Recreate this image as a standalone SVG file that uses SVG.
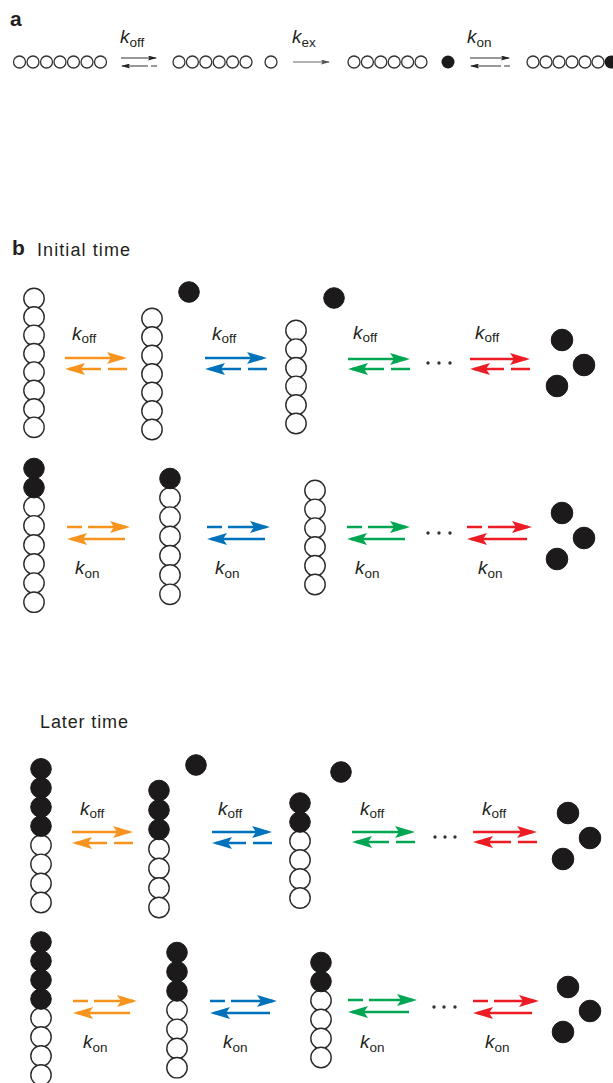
<svg xmlns="http://www.w3.org/2000/svg" width="613" height="1083" viewBox="0 0 613 1083">
<style>
text{font-family:"Liberation Sans",Arial,sans-serif;fill:#231f20}
.panel{font-weight:bold;font-size:21px}
.title{font-size:18px}
.k{font-style:italic;font-size:19px}
.sub{font-style:normal;font-size:13.5px}
.w{fill:#fff;stroke:#2a2a2a;stroke-width:1.4}
.b{fill:#1c1a1b;stroke:#1c1a1b;stroke-width:1}
.aw{fill:#fff;stroke:#333;stroke-width:1.3}
.ab{fill:#1c1a1b}
.thin{stroke:#333;stroke-width:1.1;fill:none}
.thin-d{stroke:#333;stroke-width:1.1;fill:none;stroke-dasharray:6 3 40}
.ex{stroke:#666;stroke-width:1;fill:none}
.o{stroke:#F7941E}.bl{stroke:#0072BC}.g{stroke:#00A651}.r{stroke:#ED1C24}
.s{stroke-width:2.6;fill:none}
.dl{stroke-dasharray:19 7 60}
.dr{stroke-dasharray:15 6 60}
.dot{fill:#333}
</style>
<defs>
<marker id="hO" viewBox="0 0 20 12" refX="16" refY="6" markerWidth="20" markerHeight="12" markerUnits="userSpaceOnUse" orient="auto"><path d="M0,0 L20,6 L0,12 L4,6 Z" fill="#F7941E"/></marker>
<marker id="hB" viewBox="0 0 20 12" refX="16" refY="6" markerWidth="20" markerHeight="12" markerUnits="userSpaceOnUse" orient="auto"><path d="M0,0 L20,6 L0,12 L4,6 Z" fill="#0072BC"/></marker>
<marker id="hG" viewBox="0 0 20 12" refX="16" refY="6" markerWidth="20" markerHeight="12" markerUnits="userSpaceOnUse" orient="auto"><path d="M0,0 L20,6 L0,12 L4,6 Z" fill="#00A651"/></marker>
<marker id="hR" viewBox="0 0 20 12" refX="16" refY="6" markerWidth="20" markerHeight="12" markerUnits="userSpaceOnUse" orient="auto"><path d="M0,0 L20,6 L0,12 L4,6 Z" fill="#ED1C24"/></marker>
<marker id="hK" viewBox="0 0 9 5" refX="8" refY="2.5" markerWidth="9" markerHeight="5" markerUnits="userSpaceOnUse" orient="auto"><path d="M0,0 L9,2.5 L0,5 L1.5,2.5 Z" fill="#222"/></marker>
<marker id="hX" viewBox="0 0 9 5" refX="8" refY="2.5" markerWidth="9" markerHeight="5" markerUnits="userSpaceOnUse" orient="auto"><path d="M0,0 L9,2.5 L0,5 L1.5,2.5 Z" fill="#555"/></marker>
</defs>

<!-- Panel a -->
<g id="label-a"><text class="panel" x="10" y="26">a</text></g>
<g id="a-chain1">
<circle class="aw" cx="19.5" cy="62" r="6"/><circle class="aw" cx="33" cy="62" r="6"/><circle class="aw" cx="46.5" cy="62" r="6"/><circle class="aw" cx="60" cy="62" r="6"/><circle class="aw" cx="73.5" cy="62" r="6"/><circle class="aw" cx="87" cy="62" r="6"/><circle class="aw" cx="100.5" cy="62" r="6"/>
</g>
<g id="a-chain2">
<circle class="aw" cx="179" cy="62" r="6"/><circle class="aw" cx="192.4" cy="62" r="6"/><circle class="aw" cx="205.8" cy="62" r="6"/><circle class="aw" cx="219.2" cy="62" r="6"/><circle class="aw" cx="232.6" cy="62" r="6"/><circle class="aw" cx="246" cy="62" r="6"/>
</g>
<g id="a-free-white"><circle class="aw" cx="271" cy="62" r="6"/></g>
<g id="a-chain3">
<circle class="aw" cx="354" cy="62" r="6"/><circle class="aw" cx="367.4" cy="62" r="6"/><circle class="aw" cx="380.8" cy="62" r="6"/><circle class="aw" cx="394.2" cy="62" r="6"/><circle class="aw" cx="407.6" cy="62" r="6"/><circle class="aw" cx="421" cy="62" r="6"/>
</g>
<g id="a-free-black"><circle class="ab" cx="448" cy="62" r="6.5"/></g>
<g id="a-chain4">
<circle class="aw" cx="533" cy="62" r="6"/><circle class="aw" cx="546" cy="62" r="6"/><circle class="aw" cx="559" cy="62" r="6"/><circle class="aw" cx="572" cy="62" r="6"/><circle class="aw" cx="585" cy="62" r="6"/><circle class="aw" cx="598" cy="62" r="6"/><circle class="ab" cx="611" cy="62" r="6.5"/>
</g>
<g id="a-labels">
<text x="120" y="43"><tspan class="k">k</tspan><tspan class="sub" dy="4">off</tspan></text>
<text x="292" y="43"><tspan class="k">k</tspan><tspan class="sub" dy="4">ex</tspan></text>
<text x="467" y="43"><tspan class="k">k</tspan><tspan class="sub" dy="4">on</tspan></text>
</g>

<!-- Panel b headings -->
<g id="label-b"><text class="panel" x="12" y="255">b</text></g>
<g id="title-initial"><text class="title" x="37" y="256" textLength="93">Initial time</text></g>
<g id="title-later"><text class="title" x="40" y="728" textLength="88">Later time</text></g>

<!-- Row 1: initial, koff -->
<g id="chainA">
<circle class="w" cx="34" cy="298.5" r="10.2"/><circle class="w" cx="34" cy="316.9" r="10.2"/><circle class="w" cx="34" cy="335.3" r="10.2"/><circle class="w" cx="34" cy="353.7" r="10.2"/><circle class="w" cx="34" cy="372.1" r="10.2"/><circle class="w" cx="34" cy="390.5" r="10.2"/><circle class="w" cx="34" cy="408.9" r="10.2"/><circle class="w" cx="34" cy="427.3" r="10.2"/>
</g>
<g id="chainB">
<circle class="w" cx="152" cy="318.5" r="10.2"/><circle class="w" cx="152" cy="337" r="10.2"/><circle class="w" cx="152" cy="355.5" r="10.2"/><circle class="w" cx="152" cy="374" r="10.2"/><circle class="w" cx="152" cy="392.5" r="10.2"/><circle class="w" cx="152" cy="411" r="10.2"/><circle class="w" cx="152" cy="429.5" r="10.2"/>
</g>
<g id="freeB"><circle class="b" cx="189" cy="292" r="10.3"/></g>
<g id="chainC">
<circle class="w" cx="296" cy="330.5" r="10.2"/><circle class="w" cx="296" cy="349.1" r="10.2"/><circle class="w" cx="296" cy="367.7" r="10.2"/><circle class="w" cx="296" cy="386.3" r="10.2"/><circle class="w" cx="296" cy="404.9" r="10.2"/><circle class="w" cx="296" cy="423.5" r="10.2"/>
</g>
<g id="freeC"><circle class="b" cx="334" cy="298" r="10.3"/></g>
<g id="free3-row1"><circle class="b" cx="562" cy="340" r="10.8"/><circle class="b" cx="584" cy="365" r="10.8"/><circle class="b" cx="557" cy="386" r="10.8"/></g>
<g id="dots-row1"><circle class="dot" cx="428" cy="363" r="1.7"/><circle class="dot" cx="439" cy="363" r="1.7"/><circle class="dot" cx="450" cy="363" r="1.7"/></g>

<!-- Row 2: initial, kon -->
<g id="chainD">
<circle class="w" cx="34" cy="506.7" r="10.2"/><circle class="w" cx="34" cy="525.8" r="10.2"/><circle class="w" cx="34" cy="544.9" r="10.2"/><circle class="w" cx="34" cy="564" r="10.2"/><circle class="w" cx="34" cy="583.1" r="10.2"/><circle class="w" cx="34" cy="602.2" r="10.2"/>
<circle class="b" cx="34" cy="487.6" r="10.3"/><circle class="b" cx="34" cy="468.5" r="10.3"/>
</g>
<g id="chainE">
<circle class="w" cx="170" cy="497.8" r="10.2"/><circle class="w" cx="170" cy="517.1" r="10.2"/><circle class="w" cx="170" cy="536.4" r="10.2"/><circle class="w" cx="170" cy="555.7" r="10.2"/><circle class="w" cx="170" cy="575" r="10.2"/><circle class="w" cx="170" cy="594.3" r="10.2"/>
<circle class="b" cx="170" cy="478.5" r="10.3"/>
</g>
<g id="chainF">
<circle class="w" cx="315" cy="490.5" r="10.2"/><circle class="w" cx="315" cy="509.3" r="10.2"/><circle class="w" cx="315" cy="528.1" r="10.2"/><circle class="w" cx="315" cy="546.9" r="10.2"/><circle class="w" cx="315" cy="565.7" r="10.2"/><circle class="w" cx="315" cy="584.5" r="10.2"/>
</g>
<g id="free3-row2"><circle class="b" cx="562" cy="513" r="10.8"/><circle class="b" cx="584" cy="538" r="10.8"/><circle class="b" cx="557" cy="559" r="10.8"/></g>
<g id="dots-row2"><circle class="dot" cx="428" cy="533" r="1.7"/><circle class="dot" cx="439" cy="533" r="1.7"/><circle class="dot" cx="450" cy="533" r="1.7"/></g>

<!-- Row 3: later, koff -->
<g id="chainG">
<circle class="w" cx="41" cy="845.2" r="10.2"/><circle class="w" cx="41" cy="864.3" r="10.2"/><circle class="w" cx="41" cy="883.4" r="10.2"/><circle class="w" cx="41" cy="902.5" r="10.2"/>
<circle class="b" cx="41" cy="826.1" r="10.3"/><circle class="b" cx="41" cy="807" r="10.3"/><circle class="b" cx="41" cy="787.9" r="10.3"/><circle class="b" cx="41" cy="768.8" r="10.3"/>
</g>
<g id="chainH">
<circle class="w" cx="159" cy="849" r="10.2"/><circle class="w" cx="159" cy="868.5" r="10.2"/><circle class="w" cx="159" cy="888" r="10.2"/><circle class="w" cx="159" cy="907.5" r="10.2"/>
<circle class="b" cx="159" cy="829.5" r="10.3"/><circle class="b" cx="159" cy="810" r="10.3"/><circle class="b" cx="159" cy="790.5" r="10.3"/>
</g>
<g id="freeH"><circle class="b" cx="196" cy="765" r="10.3"/></g>
<g id="chainI">
<circle class="w" cx="300" cy="841" r="10.2"/><circle class="w" cx="300" cy="860" r="10.2"/><circle class="w" cx="300" cy="879" r="10.2"/><circle class="w" cx="300" cy="898" r="10.2"/>
<circle class="b" cx="300" cy="822" r="10.3"/><circle class="b" cx="300" cy="803" r="10.3"/>
</g>
<g id="freeI"><circle class="b" cx="341" cy="772" r="10.3"/></g>
<g id="free3-row3"><circle class="b" cx="568" cy="813" r="10.8"/><circle class="b" cx="590" cy="838" r="10.8"/><circle class="b" cx="563" cy="859" r="10.8"/></g>
<g id="dots-row3"><circle class="dot" cx="435" cy="837" r="1.7"/><circle class="dot" cx="445" cy="837" r="1.7"/><circle class="dot" cx="455" cy="837" r="1.7"/></g>

<!-- Row 4: later, kon -->
<g id="chainJ">
<circle class="w" cx="41" cy="1018" r="10.2"/><circle class="w" cx="41" cy="1037" r="10.2"/><circle class="w" cx="41" cy="1056" r="10.2"/><circle class="w" cx="41" cy="1075" r="10.2"/>
<circle class="b" cx="41" cy="999" r="10.3"/><circle class="b" cx="41" cy="980" r="10.3"/><circle class="b" cx="41" cy="961" r="10.3"/><circle class="b" cx="41" cy="942" r="10.3"/>
</g>
<g id="chainK">
<circle class="w" cx="177" cy="1010.1" r="10.2"/><circle class="w" cx="177" cy="1029.3" r="10.2"/><circle class="w" cx="177" cy="1048.5" r="10.2"/><circle class="w" cx="177" cy="1067.7" r="10.2"/>
<circle class="b" cx="177" cy="990.9" r="10.3"/><circle class="b" cx="177" cy="971.7" r="10.3"/><circle class="b" cx="177" cy="952.5" r="10.3"/>
</g>
<g id="chainL">
<circle class="w" cx="321" cy="1000.5" r="10.2"/><circle class="w" cx="321" cy="1019.5" r="10.2"/><circle class="w" cx="321" cy="1038.5" r="10.2"/><circle class="w" cx="321" cy="1057.5" r="10.2"/>
<circle class="b" cx="321" cy="981.5" r="10.3"/><circle class="b" cx="321" cy="962.5" r="10.3"/>
</g>
<g id="free3-row4"><circle class="b" cx="568" cy="987" r="10.8"/><circle class="b" cx="590" cy="1011" r="10.8"/><circle class="b" cx="563" cy="1032" r="10.8"/></g>
<g id="dots-row4"><circle class="dot" cx="434" cy="1007" r="1.7"/><circle class="dot" cx="444" cy="1007" r="1.7"/><circle class="dot" cx="455" cy="1007" r="1.7"/></g>

<!-- Rate labels -->
<g id="rate-labels">
<text x="72" y="340"><tspan class="k">k</tspan><tspan class="sub" dy="3">off</tspan></text>
<text x="212" y="340"><tspan class="k">k</tspan><tspan class="sub" dy="3">off</tspan></text>
<text x="353" y="339"><tspan class="k">k</tspan><tspan class="sub" dy="3">off</tspan></text>
<text x="475" y="339"><tspan class="k">k</tspan><tspan class="sub" dy="3">off</tspan></text>
<text x="75" y="574"><tspan class="k">k</tspan><tspan class="sub" dy="4">on</tspan></text>
<text x="215" y="574"><tspan class="k">k</tspan><tspan class="sub" dy="4">on</tspan></text>
<text x="355" y="574"><tspan class="k">k</tspan><tspan class="sub" dy="4">on</tspan></text>
<text x="478" y="574"><tspan class="k">k</tspan><tspan class="sub" dy="4">on</tspan></text>
<text x="80" y="815"><tspan class="k">k</tspan><tspan class="sub" dy="3">off</tspan></text>
<text x="218" y="815"><tspan class="k">k</tspan><tspan class="sub" dy="3">off</tspan></text>
<text x="360" y="815"><tspan class="k">k</tspan><tspan class="sub" dy="3">off</tspan></text>
<text x="482" y="815"><tspan class="k">k</tspan><tspan class="sub" dy="3">off</tspan></text>
<text x="83" y="1048"><tspan class="k">k</tspan><tspan class="sub" dy="4">on</tspan></text>
<text x="223" y="1048"><tspan class="k">k</tspan><tspan class="sub" dy="4">on</tspan></text>
<text x="360" y="1048"><tspan class="k">k</tspan><tspan class="sub" dy="4">on</tspan></text>
<text x="485" y="1048"><tspan class="k">k</tspan><tspan class="sub" dy="4">on</tspan></text>
</g>

<!-- Connectors -->
<g id="connectors">
<!-- panel a -->
<line class="thin" x1="121" y1="58" x2="156" y2="58" marker-end="url(#hK)"/>
<line class="thin-d" x1="157" y1="66" x2="122" y2="66" marker-end="url(#hK)"/>
<line class="ex" x1="293" y1="62" x2="329" y2="62" marker-end="url(#hX)"/>
<line class="thin" x1="470" y1="58" x2="509" y2="58" marker-end="url(#hK)"/>
<line class="thin-d" x1="510" y1="66" x2="471" y2="66" marker-end="url(#hK)"/>
<!-- row 1 -->
<line class="s o" x1="65" y1="358" x2="123" y2="358" marker-end="url(#hO)"/>
<line class="s o dl" x1="127" y1="369" x2="69" y2="369" marker-end="url(#hO)"/>
<line class="s bl" x1="205" y1="358" x2="263" y2="358" marker-end="url(#hB)"/>
<line class="s bl dl" x1="267" y1="369" x2="209" y2="369" marker-end="url(#hB)"/>
<line class="s g" x1="348" y1="359" x2="406" y2="359" marker-end="url(#hG)"/>
<line class="s g dl" x1="410" y1="369" x2="352" y2="369" marker-end="url(#hG)"/>
<line class="s r" x1="470" y1="359" x2="526" y2="359" marker-end="url(#hR)"/>
<line class="s r dl" x1="530" y1="369" x2="474" y2="369" marker-end="url(#hR)"/>
<!-- row 2 -->
<line class="s o dr" x1="67" y1="527" x2="126" y2="527" marker-end="url(#hO)"/>
<line class="s o" x1="125" y1="539" x2="71" y2="539" marker-end="url(#hO)"/>
<line class="s bl dr" x1="207" y1="527" x2="266" y2="527" marker-end="url(#hB)"/>
<line class="s bl" x1="265" y1="539" x2="211" y2="539" marker-end="url(#hB)"/>
<line class="s g dr" x1="347" y1="527" x2="406" y2="527" marker-end="url(#hG)"/>
<line class="s g" x1="405" y1="539" x2="351" y2="539" marker-end="url(#hG)"/>
<line class="s r dr" x1="467" y1="527" x2="528" y2="527" marker-end="url(#hR)"/>
<line class="s r" x1="527" y1="539" x2="471" y2="539" marker-end="url(#hR)"/>
<!-- row 3 -->
<line class="s o" x1="72" y1="832" x2="129" y2="832" marker-end="url(#hO)"/>
<line class="s o dl" x1="133" y1="843" x2="76" y2="843" marker-end="url(#hO)"/>
<line class="s bl" x1="212" y1="832" x2="268" y2="832" marker-end="url(#hB)"/>
<line class="s bl dl" x1="272" y1="843" x2="216" y2="843" marker-end="url(#hB)"/>
<line class="s g" x1="352" y1="832" x2="411" y2="832" marker-end="url(#hG)"/>
<line class="s g dl" x1="415" y1="842" x2="356" y2="842" marker-end="url(#hG)"/>
<line class="s r" x1="473" y1="832" x2="533" y2="832" marker-end="url(#hR)"/>
<line class="s r dl" x1="537" y1="842" x2="477" y2="842" marker-end="url(#hR)"/>
<!-- row 4 -->
<line class="s o dr" x1="73" y1="1001" x2="133" y2="1001" marker-end="url(#hO)"/>
<line class="s o" x1="130" y1="1013" x2="77" y2="1013" marker-end="url(#hO)"/>
<line class="s bl dr" x1="210" y1="1001" x2="273" y2="1001" marker-end="url(#hB)"/>
<line class="s bl" x1="270" y1="1013" x2="214" y2="1013" marker-end="url(#hB)"/>
<line class="s g dr" x1="348" y1="1000" x2="413" y2="1000" marker-end="url(#hG)"/>
<line class="s g" x1="409" y1="1012" x2="352" y2="1012" marker-end="url(#hG)"/>
<line class="s r dr" x1="473" y1="1001" x2="535" y2="1001" marker-end="url(#hR)"/>
<line class="s r" x1="532" y1="1013" x2="477" y2="1013" marker-end="url(#hR)"/>
</g>
</svg>
